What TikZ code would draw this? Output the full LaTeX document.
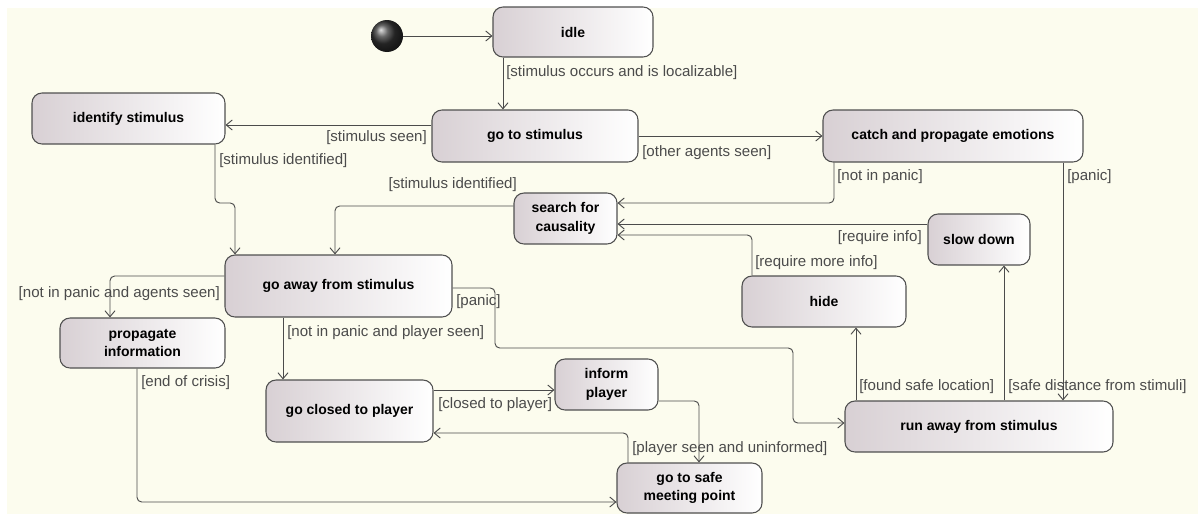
\documentclass[tikz,border=0pt]{standalone}
\usepackage{fontspec}
\setmainfont{Liberation Sans}
\usetikzlibrary{arrows.meta}
\definecolor{bgcream}{RGB}{252,252,238}
\definecolor{boxline}{RGB}{80,80,80}
\definecolor{boxshade}{RGB}{216,208,212}
\definecolor{flowline}{RGB}{75,75,75}
\definecolor{guardtext}{RGB}{75,75,75}

\begin{document}
\begin{tikzpicture}[x=0.75pt,y=0.75pt,yscale=-1,xscale=1,
    actbox/.style={draw=boxline, line width=0.8pt, rounded corners=7.5pt, shading=axis, shading angle=60, left color=boxshade, right color=white, align=center, inner sep=2pt, font=\fontsize{10.5}{14}\selectfont\bfseries},
    guard/.style={text=guardtext, inner sep=0pt, font=\fontsize{11.3}{13}\selectfont},
    flow/.style={draw=flowline, line width=0.7pt, rounded corners=3.5pt, -{Straight Barb[length=4.5pt,width=7.5pt]}}]
    %set diagram size to 1198 x 514
    \fill[white] (0,0) rectangle (1198,514);
    \fill[bgcream] (7,8) rectangle (1198,514);
    \useasboundingbox (0,0) rectangle (1198,514);
    
    % Start Node
    \node[circle, minimum size=24pt, inner sep=0pt, shading=ball, ball color=black!80] (init) at (387,36) {};
    
    % Text Node
    \node[actbox, minimum width=120pt, minimum height=37.5pt] (idle) at (573,32) {idle};
    % Text Node
    \node[actbox, minimum width=154.5pt, minimum height=39pt] (gostim) at (535,136) {go to stimulus};
    % Text Node
    \node[actbox, minimum width=144.75pt, minimum height=38.25pt] (identify) at (128.5,118.5) {identify stimulus};
    % Text Node
    \node[actbox, minimum width=195pt, minimum height=39pt] (catch) at (953,136) {catch and propagate emotions};
    % Text Node
    \node[actbox, minimum width=77.25pt, minimum height=38.25pt] (search) at (565.5,218.5) {search for\\causality};
    % Text Node
    \node[actbox, minimum width=76.5pt, minimum height=38.25pt] (slowdown) at (979,239.5) {slow down};
    % Text Node
    \node[actbox, minimum width=170.25pt, minimum height=46.5pt] (goaway) at (338.5,286) {go away from stimulus};
    % Text Node
    \node[actbox, minimum width=123pt, minimum height=38.25pt] (hide) at (824,301.5) {hide};
    % Text Node
    \node[actbox, minimum width=123.75pt, minimum height=37.5pt] (propagate) at (142.5,343) {propagate\\information};
    % Text Node
    \node[actbox, minimum width=125.25pt, minimum height=46.5pt] (goclosed) at (349.5,411) {go closed to player};
    % Text Node
    \node[actbox, minimum width=77.25pt, minimum height=38.25pt] (inform) at (606.5,384.5) {inform\\player};
    % Text Node
    \node[actbox, minimum width=108.75pt, minimum height=37.5pt] (gosafe) at (689.5,488) {go to safe\\meeting point};
    % Text Node
    \node[actbox, minimum width=201pt, minimum height=38.25pt] (runaway) at (979,426.5) {run away from stimulus};
    
    %Straight Lines
    \draw[flow] (init) -- (init -| idle.west);
    \draw[flow] (idle.south -| 503,0) -- (gostim.north -| 503,0);
    \draw[flow] (gostim.west |- 0,125) -- (identify.east |- 0,125);
    \draw[flow] (gostim) -- (catch);
    \draw[flow] (identify.south -| 215,0) -- (215,203) -- (235,203) -- (goaway.north -| 235,0);
    \draw[flow] (search.west |- 0,206) -| (goaway.north -| 335,0);
    \draw[flow] (catch.south -| 834,0) |- (search.east |- 0,203);
    \draw[flow] (catch.south -| 1063,0) -- (runaway.north -| 1063,0);
    \draw[flow] (slowdown.west |- 0,224) -- (search.east |- 0,224);
    \draw[flow] (hide.north -| 752,0) |- (search.east |- 0,235);
    \draw[flow] (runaway.north -| 856,0) -- (hide.south -| 856,0);
    \draw[flow] (runaway.north -| 1004,0) -- (slowdown.south -| 1004,0);
    \draw[flow] (goaway.east |- 0,288) -| (495,348) -| (793,423) -- (runaway.west |- 0,423);
    \draw[flow] (goaway.west |- 0,276) -| (propagate.north -| 110,0);
    \draw[flow] (goaway.south -| 283,0) -- (goclosed.north -| 283,0);
    \draw[flow] (propagate.south -| 137,0) |- (gosafe.west |- 0,502);
    \draw[flow] (goclosed.east |- 0,390) -- (inform.west |- 0,390);
    \draw[flow] (inform.east |- 0,401) -| (gosafe.north -| 699,0);
    \draw[flow] (gosafe.north -| 628,0) |- (goclosed.east |- 0,433);
    
    % Guards
    \node[guard, anchor=west] (g-occurs) at (506,73) {[stimulus occurs and is localizable]};
    \node[guard, anchor=east] (g-seen) at (427,138) {[stimulus seen]};
    \node[guard, anchor=west] (g-agents) at (642,153) {[other agents seen]};
    \node[guard, anchor=west] (g-ident) at (219,161) {[stimulus identified]};
    \node[guard, anchor=east] (g-cause) at (517,185) {[stimulus identified]};
    \node[guard, anchor=west] (g-nopanic) at (837,177) {[not in panic]};
    \node[guard, anchor=west] (g-panic) at (1067,177) {[panic]};
    \node[guard, anchor=east] (g-info) at (922,238) {[require info]};
    \node[guard, anchor=west] (g-more) at (755,263) {[require more info]};
    \node[guard, anchor=east] (g-spread) at (220,294) {[not in panic and agents seen]};
    \node[guard, anchor=west] (g-flee) at (456,302) {[panic]};
    \node[guard, anchor=west] (g-player) at (287,333) {[not in panic and player seen]};
    \node[guard, anchor=west] (g-crisis) at (141,383) {[end of crisis]};
    \node[guard, anchor=west] (g-closed) at (438,405) {[closed to player]};
    \node[guard, anchor=west] (g-uninf) at (632,449) {[player seen and uninformed]};
    \node[guard, anchor=west] (g-safe) at (859,387) {[found safe location]};
    \node[guard, anchor=west] (g-dist) at (1008,387) {[safe distance from stimuli]};
    
\end{tikzpicture}
\end{document}
